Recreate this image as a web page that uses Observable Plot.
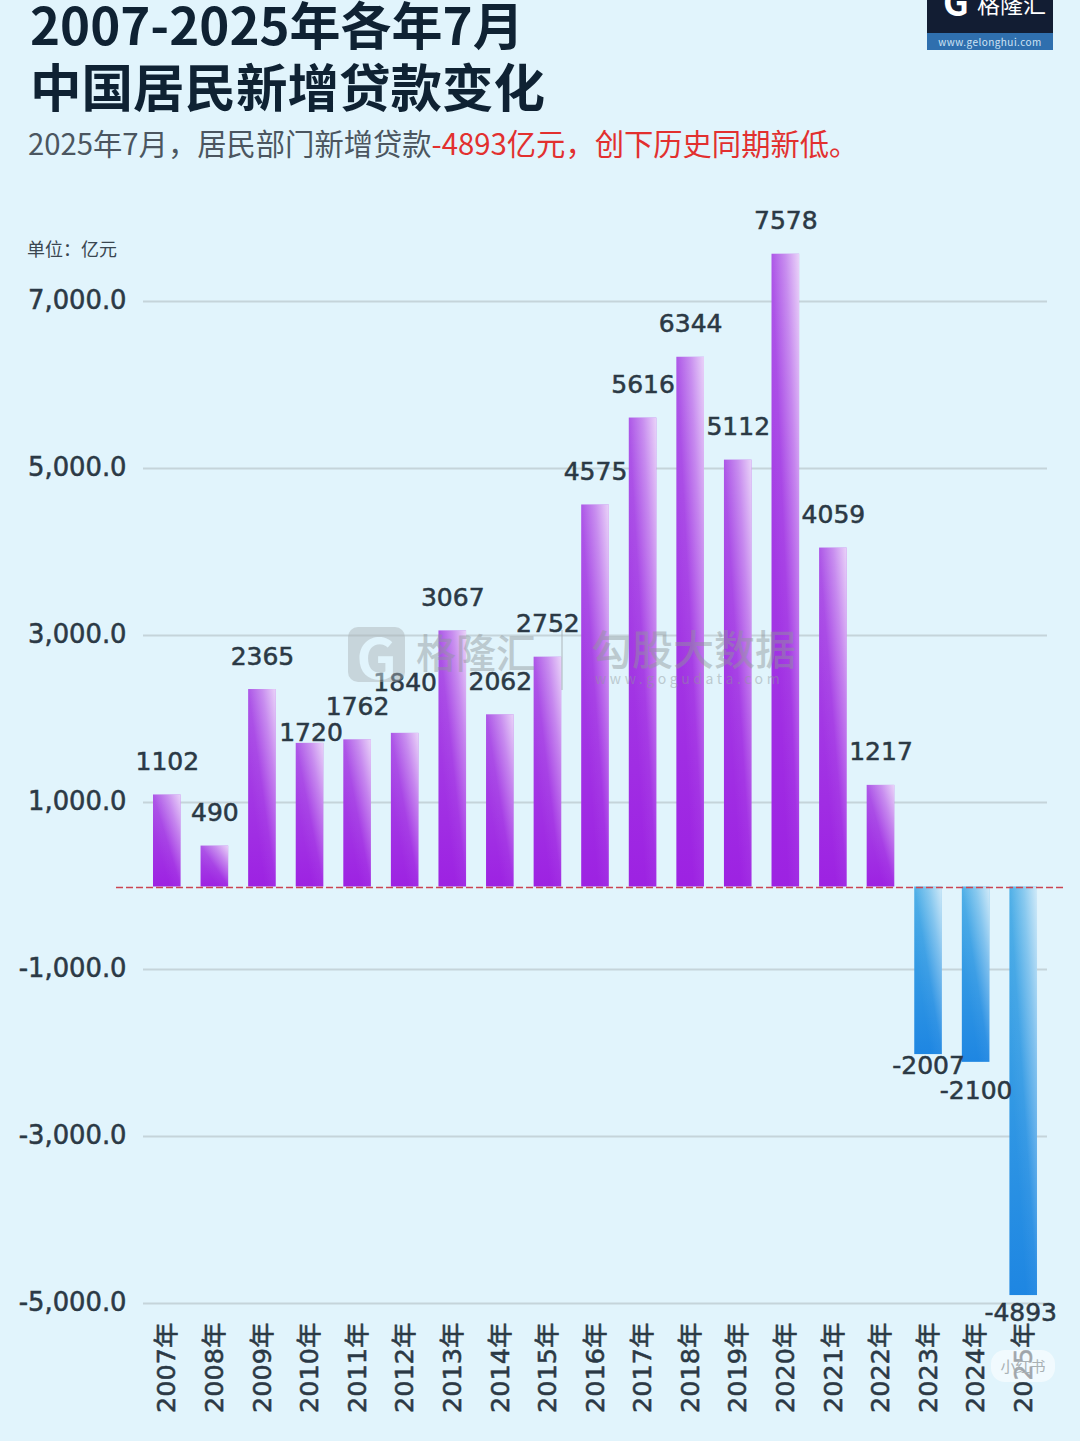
<!DOCTYPE html>
<html lang="zh-CN">
<head>
<meta charset="utf-8">
<script src="https://cdn.jsdelivr.net/npm/d3@7"></script>
<script src="https://cdn.jsdelivr.net/npm/@observablehq/plot@0.6"></script>
<style>
html,body{margin:0;padding:0;background:#e1f4fc;width:1080px;height:1441px;overflow:hidden;font-family:"Noto Sans CJK SC","Noto Sans",sans-serif;}
#page{position:relative;width:1080px;height:1441px;overflow:hidden;}
#head{position:absolute;left:0;top:0;width:1080px;height:170px;}
.t{position:absolute;white-space:nowrap;}
#chart{position:absolute;left:0;top:170px;}
#chart svg{display:block;background:transparent;}
#chart svg text{stroke:#2b3945;stroke-width:.55px;}
.over{pointer-events:none;}
</style>
</head>
<body>
<div id="page">
  <div id="head">
    <div class="t" style="left:30px;top:0;font-size:51px;line-height:46px;font-weight:700;color:#0f2233;">2007-2025年各年7月</div>
    <div class="t" style="left:30px;top:53px;font-size:51.5px;line-height:64px;font-weight:700;color:#0f2233;">中国居民新增贷款变化</div>
    <div class="t" style="left:28px;top:122px;font-size:29.3px;line-height:40px;color:#4b5660;">2025年7月，居民部门新增贷款<span style="color:#e2302f">-4893亿元，创下历史同期新低。</span></div>
    <div class="t" style="left:27px;top:236px;font-size:18px;line-height:24px;color:#3a4650;">单位：亿元</div>
    <div class="t" style="left:927px;top:0;width:126px;height:33px;background:#121d33;overflow:hidden;">
      <div class="t" style="left:50px;top:-13px;font-size:23px;line-height:32px;color:#fff;">格隆汇</div>
      <div class="t" style="left:16px;top:-22px;font-size:36px;line-height:44px;font-weight:700;color:#fff;">G</div>
    </div>
    <div class="t" style="left:927px;top:33px;width:126px;height:17px;background:#2f6fae;color:#cfe4f5;font-size:10px;line-height:17px;letter-spacing:.45px;text-align:center;">www.gelonghui.com</div>
  </div>
  <div id="chart"></div>
  <div class="over t" style="left:0;top:0;width:1080px;height:1441px;color:#8e9699;opacity:.45;">
    <div class="t" style="left:348px;top:627px;width:57px;height:55px;border-radius:10px;background:#a9b1b4;color:#e1f4fc;font-size:56px;line-height:55px;font-weight:700;text-align:center;">G</div>
    <div class="t" style="left:416px;top:622px;font-size:40px;line-height:58px;font-weight:500;">格隆汇</div>
    <div class="t" style="left:561px;top:630px;width:2px;height:60px;background:#a9b1b4;"></div>
    <div class="t" style="left:591px;top:618px;font-size:41px;line-height:58px;font-weight:500;">勾股大数据</div>
    <div class="t" style="left:595px;top:668px;font-size:14px;line-height:20px;letter-spacing:3.6px;">www.gogudata.com</div>
  </div>
  <div class="over t" style="left:991px;top:1350px;width:64px;height:32px;border-radius:14px;background:rgba(255,255,255,.55);color:#a9b1b4;font-size:15px;line-height:32px;text-align:center;">小红书</div>
</div>
<script>
const years = ["2007年","2008年","2009年","2010年","2011年","2012年","2013年","2014年","2015年","2016年","2017年","2018年","2019年","2020年","2021年","2022年","2023年","2024年","2025年"];
const values = [1102,490,2365,1720,1762,1840,3067,2062,2752,4575,5616,6344,5112,7578,4059,1217,-2007,-2100,-4893];
const yTicks = [7000,5000,3000,1000,-1000,-3000,-5000];

const rows = years.map((year, i) => ({year, value: values[i]}));
const hyphen = s => s.replace("\u2212", "-");
const labelColor = "#2b3945";
const labelFont = 25;
const digitFamily = '"DejaVu Sans","Noto Sans CJK SC",sans-serif';

function gradients() {
  const defs = d3.create("svg:defs");
  const vertical = (id, top, bottom) => {
    const g = defs.append("linearGradient").attr("id", id)
      .attr("x1", 0).attr("y1", 0).attr("x2", 0).attr("y2", 1);
    g.append("stop").attr("offset", 0).attr("stop-color", top);
    g.append("stop").attr("offset", 1).attr("stop-color", bottom);
  };
  vertical("purpleFill", "#a94fe6", "#9d22e2");
  vertical("blueFill", "#47ace6", "#1e86e2");
  const sheen = defs.append("linearGradient").attr("id", "sheen")
    .attr("x1", 0).attr("y1", 1).attr("x2", 1).attr("y2", 0);
  [[0.3, 0], [0.5, 0.05], [0.75, 0.36], [1, 0.75]].forEach(([o, a]) =>
    sheen.append("stop").attr("offset", o).attr("stop-color", "#fff").attr("stop-opacity", a));
  return defs.node();
}

const label = (keep, opts) => Plot.text(rows.filter(d => keep.includes(d.year)), {
  x: "year", y: "value", text: d => String(d.value), fill: labelColor,
  fontSize: labelFont, fontFamily: digitFamily, ...opts
});

const above = years.filter((y, i) => values[i] > 0 && !["2010年","2012年"].includes(y));

const chart = Plot.plot({
  width: 1080,
  height: 1271,
  marginLeft: 143,
  marginRight: 33,
  marginTop: 47.5,
  marginBottom: 138,
  style: {background: "transparent", fontFamily: digitFamily, overflow: "visible"},
  x: {domain: years, paddingInner: 0.42, paddingOuter: 0.21, align: 0.5, round: false, label: null},
  y: {domain: [-5000, 8000], label: null},
  marks: [
    gradients,
    Plot.ruleY(yTicks, {stroke: "#c5d4da", strokeWidth: 2}),
    Plot.barY(rows.filter(d => d.value >= 0), {x: "year", y: "value", fill: "url(#purpleFill)", dy: 1}),
    Plot.barY(rows.filter(d => d.value < 0), {x: "year", y: "value", fill: "url(#blueFill)", dy: 1}),
    Plot.barY(rows, {x: "year", y: "value", fill: "url(#sheen)", dy: 1}),
    Plot.ruleY([0], {stroke: "#cc4552", strokeWidth: 1.6, strokeDasharray: "7 3", insetLeft: -27, insetRight: -19, dy: 1.5}),
    Plot.axisY({ticks: yTicks, tickSize: 0, tickPadding: 17, label: null, fontSize: 25.8, fill: labelColor, dy: -1,
      tickFormat: d => hyphen(d3.format(",.1f")(d))}),
    Plot.axisX({tickSize: 0, tickPadding: 19, tickRotate: -90, label: null, fontSize: 25.5, fill: labelColor}),
    label(above, {dy: -32}),
    label(["2010年"], {dy: -9, dx: 1}),
    label(["2012年"], {dy: -49}),
    label(["2023年"], {dy: 12}),
    label(["2024年"], {dy: 30}),
    label(["2025年"], {dy: 18, dx: -3})
  ]
});
document.getElementById("chart").appendChild(chart);
</script>
</body>
</html>
